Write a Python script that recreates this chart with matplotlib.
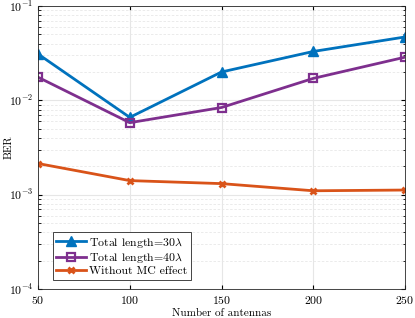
import matplotlib
matplotlib.use("Agg")
import matplotlib.pyplot as plt
from matplotlib.ticker import LogLocator, NullFormatter

plt.rcParams['font.family'] = 'serif'
plt.rcParams['font.serif'] = ['cmr10', 'DejaVu Serif']
plt.rcParams['mathtext.fontset'] = 'cm'
plt.rcParams['axes.formatter.use_mathtext'] = True

antennas = [50, 100, 150, 200, 250]
ber_30 = [0.031, 0.0066, 0.020, 0.033, 0.047]
ber_40 = [0.0176, 0.0058, 0.0084, 0.0171, 0.0287]
ber_nomc = [0.00214, 0.00141, 0.00131, 0.0011, 0.00112]

fig = plt.figure(figsize=(4.15, 3.18), dpi=100)
ax = fig.add_axes([0.0916, 0.0912, 0.8844, 0.8898])

ax.semilogy(antennas, ber_30, '-^', color='#0072BD', lw=2, ms=7,
            mfc='#0072BD', mec='#0072BD', label=r'Total length=30$\lambda$')
ax.semilogy(antennas, ber_40, '-s', color='#7E2F8E', lw=2, ms=5.5,
            mfc='none', mew=1.6, label=r'Total length=40$\lambda$')
ax.semilogy(antennas, ber_nomc, '-x', color='#D95319', lw=2, ms=4.5,
            mew=2, label='Without MC effect')

ax.set_xlim(50, 250)
ax.set_ylim(1e-4, 1e-1)
ax.set_xticks([50, 100, 150, 200, 250])
ax.yaxis.set_minor_locator(LogLocator(base=10, subs=range(2, 10)))
ax.yaxis.set_minor_formatter(NullFormatter())
ax.grid(True, which='major', color='#e6e6e6', lw=0.8)
ax.grid(True, which='minor', axis='y', color='#e8e8e8', lw=0.6, ls=(0, (3, 2)))
ax.set_axisbelow(True)
ax.tick_params(which='both', direction='in', top=True, right=True, labelsize=8.5)
ax.tick_params(which='major', length=3)
ax.tick_params(which='minor', length=1.8)
for s in ax.spines.values():
    s.set_color('#262626')
    s.set_linewidth(0.6)
ax.set_xlabel('Number of antennas', fontsize=8, labelpad=2)
ax.set_ylabel('BER', fontsize=8)
ax.yaxis.set_label_coords(-0.066, 0.5)

leg = ax.legend(loc='lower left', bbox_to_anchor=(0.03, 0.02), fontsize=8.5,
                fancybox=False, edgecolor='#262626', framealpha=1,
                handlelength=2.5, handletextpad=0.3, borderpad=0.3,
                labelspacing=0.1, borderaxespad=0.3)
leg.get_frame().set_linewidth(0.6)

fig.savefig('out.png', dpi=100)
